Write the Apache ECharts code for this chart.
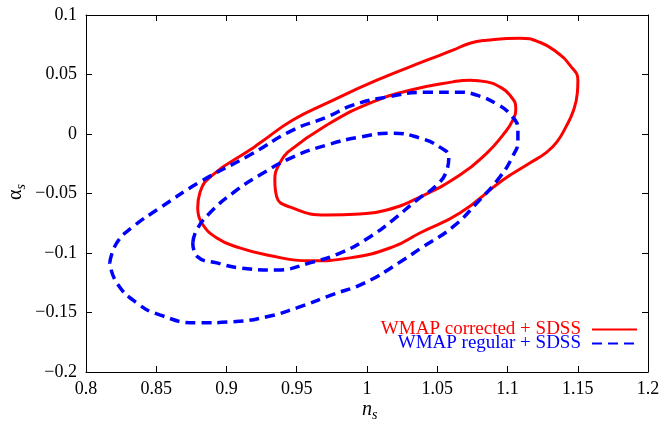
<!DOCTYPE html>
<html>
<head>
<meta charset="utf-8">
<script src="https://cdn.jsdelivr.net/npm/echarts@6/dist/echarts.min.js"></script>
<style>html,body{margin:0;padding:0;background:#fff}#c{width:664px;height:426px}</style>
</head>
<body>
<div id="c"></div>
<script>
const xTicks = [0.8, 0.85, 0.9, 0.95, 1, 1.05, 1.1, 1.15, 1.2];
const yTicks = [-0.2, -0.15, -0.1, -0.05, 0, 0.05, 0.1];
const legendNames = ['WMAP corrected + SDSS', 'WMAP regular + SDSS'];

const redOuter = [
  [0.8795,-0.0622],[0.881,-0.0496],[0.890,-0.0345],[0.9166,-0.0135],[0.9237,-0.0076],
  [0.9472,0.0117],[0.9714,0.0259],[1.007,0.0452],[1.0426,0.062],[1.0611,0.0704],
  [1.0732,0.0763],[1.0853,0.0788],[1.1088,0.0805],[1.123,0.0771],[1.1351,0.0687],
  [1.1444,0.0578],[1.1501,0.0452],[1.1497,0.0343],[1.147,0.02],[1.1415,0.0058],
  [1.1352,-0.0066],[1.128,-0.0152],[1.1159,-0.0244],[1.0967,-0.0387],
  [1.0661,-0.0664],[1.0376,-0.0832],[1.0184,-0.0949],[0.9878,-0.1041],[0.9593,-0.1066],
  [0.9287,-0.1016],[0.9094,-0.0957],[0.8931,-0.0873],[0.8824,-0.0748],[0.8795,-0.0622]
];
const redInner = [
  [0.9436,-0.0152],[0.9714,0.0075],[1.002,0.0259],[1.0305,0.0368],[1.0611,0.0438],
  [1.0732,0.0452],[1.0853,0.0438],[1.0945,0.0396],[1.1017,0.0326],[1.1059,0.0217],[1.1038,0.0117],
  [1.0967,-0.0009],[1.0853,-0.016],[1.0661,-0.0345],[1.0376,-0.053],[1.0141,-0.0639],
  [0.9949,-0.0672],[0.9714,-0.0681],[0.945,-0.0613],[0.9358,-0.053],[0.9344,-0.0387],
  [0.9379,-0.0244],[0.9436,-0.0152]
];
const blueOuter = [
  [0.8169,-0.1083],[0.8219,-0.0915],[0.8333,-0.0781],[0.8525,-0.0622],[0.881,-0.0404],
  [0.9166,-0.0177],[0.9472,0.0033],[0.9714,0.0142],[0.9899,0.0242],[1.0141,0.031],
  [1.0426,0.0351],[1.0661,0.0351],[1.0782,0.0326],[1.0924,0.0252],[1.1024,0.0159],
  [1.1074,0.0041],[1.1074,-0.0059],[1.1038,-0.0185],[1.0945,-0.0362],[1.0782,-0.058],
  [1.0611,-0.0781],[1.0397,-0.0949],[1.0226,-0.1083],[0.9984,-0.1251],[0.9749,-0.1352],
  [0.95,-0.1461],[0.9287,-0.1536],[0.9045,-0.1578],[0.8788,-0.1587],[0.8525,-0.152],
  [0.8361,-0.1419],[0.8219,-0.1251],[0.8169,-0.1083]
];
const blueInner = [
  [0.876,-0.0915],[0.8788,-0.0806],[0.8881,-0.0664],[0.9045,-0.0496],[0.9237,-0.0345],
  [0.9472,-0.0194],[0.9714,-0.0093],[0.9949,-0.0026],[1.0184,0.0007],[1.0376,-0.0034],
  [1.0518,-0.011],[1.0582,-0.0194],[1.0568,-0.0303],[1.0497,-0.0429],[1.0355,-0.0555],
  [1.0184,-0.0723],[1.002,-0.0865],[0.9828,-0.0991],[0.9593,-0.1083],[0.9358,-0.1142],
  [0.9094,-0.1125],[0.8931,-0.1083],[0.8795,-0.1033],[0.876,-0.0915]
];

const FONT = "'Liberation Serif', 'Times New Roman', serif";
const fmt = v => String(+(+v).toFixed(2)).replace('-', '\u2212');
const RED = '#ff0000', BLUE = '#0000ff';

function axisCommon(showLabel, pos, ticks) {
  return {
    type: 'value', position: pos,
    min: ticks[0], max: ticks[ticks.length - 1], interval: 0.05,
    axisLine: { show: true, onZero: false, lineStyle: { color: '#000', width: 1 } },
    axisTick: { show: true, inside: true, length: 6, lineStyle: { color: '#000' } },
    axisLabel: { show: showLabel, formatter: fmt, fontFamily: FONT, fontSize: 18, color: '#000' },
    splitLine: { show: false }
  };
}
const xBottom = axisCommon(true, 'bottom', xTicks); xBottom.axisLabel.margin = 8;
const xTop = axisCommon(false, 'top', xTicks);
const yLeft = axisCommon(true, 'left', yTicks); yLeft.axisLabel.margin = 9;
const yRight = axisCommon(false, 'right', yTicks);

function lineSeries(name, data, color, type, width) {
  return {
    type: 'line', name, data, smooth: 0.5, symbol: 'none', showSymbol: false,
    xAxisIndex: 0, yAxisIndex: 0, silent: true, animation: false,
    lineStyle: { color, width, type }, itemStyle: { color }
  };
}

const chart = echarts.init(document.getElementById('c'), null, { renderer: 'canvas' });
chart.setOption({
  animation: false,
  backgroundColor: '#fff',
  grid: { left: 86, right: 16, top: 15, bottom: 54 },
  xAxis: [xBottom, xTop],
  yAxis: [yLeft, yRight],
  legend: {
    orient: 'vertical', right: 21, top: 315, align: 'right',
    itemWidth: 45, itemHeight: 14, itemGap: -5,
    itemStyle: { opacity: 0 },
    textStyle: { fontFamily: FONT, fontSize: 19, padding: [0, 6, 0, 0] },
    data: [
      { name: legendNames[0], textStyle: { color: RED } },
      { name: legendNames[1], textStyle: { color: BLUE } }
    ]
  },
  series: [
    lineSeries(legendNames[0], redOuter, RED, 'solid', 3),
    lineSeries(legendNames[0], redInner, RED, 'solid', 3),
    lineSeries(legendNames[1], blueOuter, BLUE, [10, 6], 3.5),
    lineSeries(legendNames[1], blueInner, BLUE, [10, 6], 3.5)
  ],
  graphic: [
    { type: 'text', left: 362, top: 400,
      style: { text: '{a|n}{b|s}', rich: {
        a: { fontFamily: FONT, fontStyle: 'italic', fontSize: 20, fill: '#000' },
        b: { fontFamily: FONT, fontStyle: 'italic', fontSize: 14, fill: '#000', padding: [10, 0, 0, 0] } } } },
    { type: 'text', x: 4, y: 200, rotation: Math.PI / 2,
      style: { text: '{a|\u03b1}{b|s}', rich: {
        a: { fontFamily: FONT, fontSize: 20, fill: '#000' },
        b: { fontFamily: FONT, fontStyle: 'italic', fontSize: 14, fill: '#000', padding: [10, 0, 0, 0] } } } }
  ]
});
</script>
</body>
</html>
